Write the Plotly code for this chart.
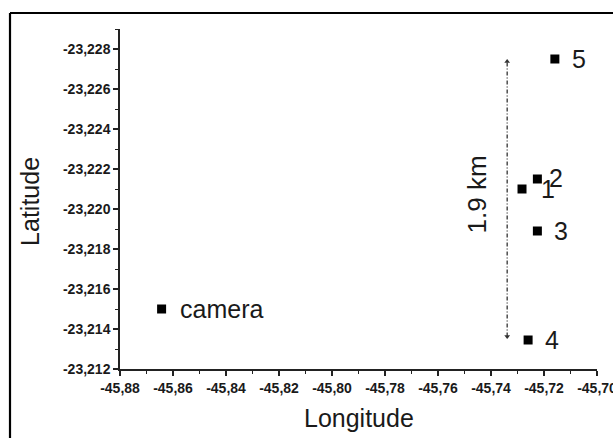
import plotly.graph_objects as go

# Site positions (longitude, latitude)
site_names = ["camera", "1", "2", "3", "4", "5"]
site_lon = [-45.8643, -45.7283, -45.7225, -45.7225, -45.7260, -45.7159]
site_lat = [-23.2150, -23.2210, -23.2215, -23.2189, -23.21345, -23.2275]
label_xshift = [16, 17, 10, 15, 15, 15]
label_yshift = [0, 0, 1, 0, 0, 0]

# Distance marker between sites 4 and 5
span_lon = [-45.7339, -45.7339]
span_lat = [-23.21362, -23.22737]
span_label = "1.9 km"
span_label_lon = -45.7451
span_label_lat = -23.22075

# Axis ticks
x_ticks = [-45.88, -45.86, -45.84, -45.82, -45.80, -45.78, -45.76, -45.74, -45.72, -45.70]
x_tick_text = ["-45,88", "-45,86", "-45,84", "-45,82", "-45,80", "-45,78", "-45,76",
               "-45,74", "-45,72", "-45,70"]
y_ticks = [-23.212, -23.214, -23.216, -23.218, -23.220, -23.222, -23.224, -23.226, -23.228]
y_tick_text = ["-23,212", "-23,214", "-23,216", "-23,218", "-23,220", "-23,222",
               "-23,224", "-23,226", "-23,228"]

FONT = "Liberation Sans, Arial, sans-serif"
INK = "#1a1a1a"

fig = go.Figure()

fig.add_trace(go.Scatter(
    x=span_lon, y=span_lat, mode="lines",
    line=dict(color="#333333", width=1.3, dash="4px,2px,1px,2px"),
    hoverinfo="skip", showlegend=False,
))
fig.add_trace(go.Scatter(
    x=span_lon, y=span_lat, mode="markers",
    marker=dict(symbol=["triangle-down", "triangle-up"], size=5, color="#333333"),
    hoverinfo="skip", showlegend=False,
))

fig.add_trace(go.Scatter(
    x=site_lon, y=site_lat, mode="markers",
    marker=dict(symbol="square", size=9, color="black"),
    showlegend=False,
))

for name, lon, lat, dx, dy in zip(site_names, site_lon, site_lat, label_xshift, label_yshift):
    fig.add_annotation(
        x=lon, y=lat, text=name, showarrow=False,
        xanchor="left", yanchor="middle", xshift=dx, yshift=dy,
        font=dict(family=FONT, size=25, color=INK),
    )

fig.add_annotation(
    x=span_label_lon, y=span_label_lat, text=span_label, showarrow=False,
    textangle=-90, font=dict(family=FONT, size=26, color=INK),
)

# Axis titles
fig.add_annotation(
    x=0.5, y=-0.145, xref="paper", yref="paper", text="Longitude", showarrow=False,
    xanchor="center", yanchor="middle", font=dict(family=FONT, size=25, color=INK),
)
fig.add_annotation(
    x=-0.189, y=0.494, xref="paper", yref="paper", text="Latitude", showarrow=False,
    textangle=-90, xanchor="center", yanchor="middle",
    font=dict(family=FONT, size=25, color=INK),
)

axis_common = dict(
    showgrid=False, zeroline=False, showline=True, linecolor="#222222", linewidth=1.5,
    ticks="outside", ticklen=5, tickwidth=1.5, tickcolor="#222222",
    tickfont=dict(family=FONT, size=14, color=INK),
    ticklabeloverflow="allow", automargin=False,
)

fig.update_xaxes(
    range=[-45.88, -45.70], tickmode="array", tickvals=x_ticks,
    ticktext=["<b>%s</b>" % t for t in x_tick_text],
    minor=dict(tickmode="linear", tick0=-45.88, dtick=0.01, ticks="outside",
               ticklen=3, tickwidth=1.3, tickcolor="#222222", showgrid=False),
    **axis_common,
)
fig.update_yaxes(
    range=[-23.212, -23.229], tickmode="array", tickvals=y_ticks,
    ticktext=["<b>%s</b>" % t for t in y_tick_text],
    minor=dict(tickmode="linear", tick0=-23.212, dtick=0.001, ticks="outside",
               ticklen=3, tickwidth=1.3, tickcolor="#222222", showgrid=False),
    **axis_common,
)

# Outer frame
fig.add_shape(type="line", xref="paper", yref="paper",
              x0=-0.2306, y0=1.0471, x1=1.2, y1=1.0471,
              line=dict(color="black", width=2.2))
fig.add_shape(type="line", xref="paper", yref="paper",
              x0=-0.2306, y0=1.0471, x1=-0.2306, y1=-0.4,
              line=dict(color="black", width=2.2))

fig.update_layout(
    width=613, height=438,
    margin=dict(l=120, r=16, t=29, b=69, autoexpand=False),
    paper_bgcolor="white", plot_bgcolor="white",
    showlegend=False,
)

fig.write_html("out.html")
